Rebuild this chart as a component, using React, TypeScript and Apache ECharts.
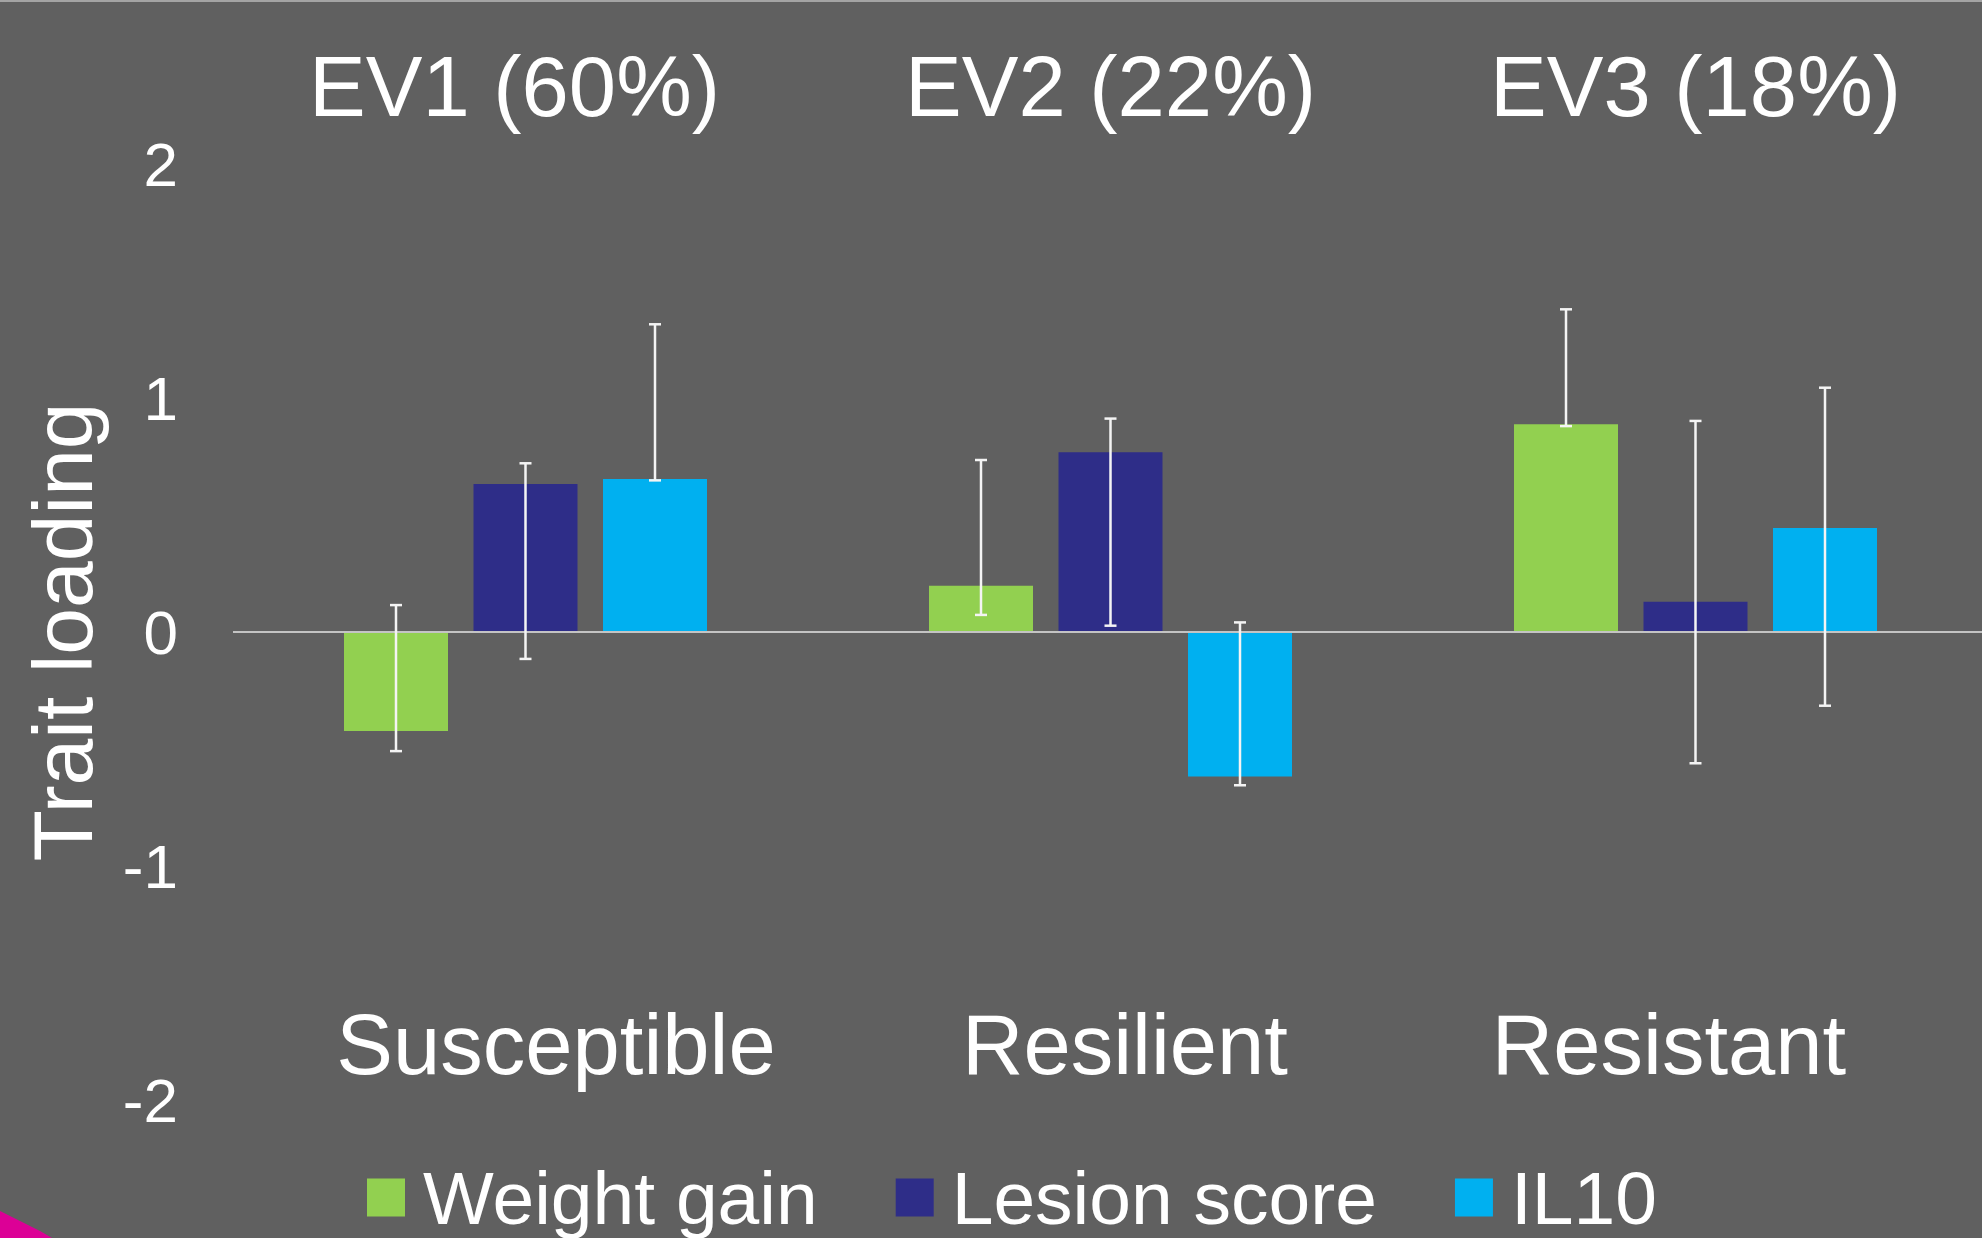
import React, { useEffect, useRef } from "react";
import * as echarts from "echarts";

const topLabels = ["EV1 (60%)", "EV2 (22%)", "EV3 (18%)"];
const groupLabels = ["Susceptible", "Resilient", "Resistant"];
const seriesNames = ["Weight gain", "Lesion score", "IL10"];
const seriesColors = ["#92D050", "#2E2D88", "#00B0F0"];

const weightGain = [-0.423, 0.198, 0.888];
const lesionScore = [0.632, 0.768, 0.129];
const il10 = [0.654, -0.618, 0.444];

const weightGainLow = [-0.509, 0.073, 0.88];
const weightGainHigh = [0.115, 0.735, 1.379];
const lesionScoreLow = [-0.115, 0.027, -0.561];
const lesionScoreHigh = [0.721, 0.912, 0.902];
const il10Low = [0.648, -0.655, -0.315];
const il10High = [1.315, 0.041, 1.044];

const yTicks = [-2, -1, 0, 1, 2];

const FONT = "'Liberation Sans', Arial, Helvetica, sans-serif";
const BAR_WIDTH = 104;
const BAR_GAP_PX = 25.5;

export default function App() {
  const ref = useRef<HTMLDivElement>(null);

  useEffect(() => {
    if (!ref.current) return;
    const chart = echarts.init(ref.current, undefined, { renderer: "svg" });

    const values = [weightGain, lesionScore, il10];
    const lows = [weightGainLow, lesionScoreLow, il10Low];
    const highs = [weightGainHigh, lesionScoreHigh, il10High];

    const barSeries = seriesNames.map((name, i) => ({
      name,
      type: "bar",
      xAxisIndex: 0,
      yAxisIndex: 0,
      barWidth: BAR_WIDTH,
      barGap: `${(BAR_GAP_PX / BAR_WIDTH) * 100}%`,
      itemStyle: { color: seriesColors[i] },
      data: values[i],
      z: 2,
      ...(i === 0
        ? {
            markLine: {
              silent: true,
              symbol: "none",
              label: { show: false },
              lineStyle: { color: "#c4c4c4", width: 2, type: "solid" },
              data: [{ yAxis: 0 }],
              z: 3,
            },
          }
        : {}),
    }));

    const errSeries = seriesNames.map((name, i) => ({
      name: name + " error",
      type: "custom",
      xAxisIndex: 0,
      yAxisIndex: 0,
      z: 5,
      silent: true,
      data: lows[i].map((lo, k) => [k, lo, highs[i][k]]),
      encode: { x: 0, y: [1, 2] },
      renderItem: (params: any, api: any) => {
        const k = api.value(0);
        const lo = api.coord([k, api.value(1)]);
        const hi = api.coord([k, api.value(2)]);
        const off = (i - 1) * (BAR_WIDTH + BAR_GAP_PX);
        const x = lo[0] + off;
        const hw = 6;
        const style = { stroke: "#f4f4f4", lineWidth: 2.5 };
        return {
          type: "group",
          children: [
            { type: "line", shape: { x1: x, y1: lo[1], x2: x, y2: hi[1] }, style },
            { type: "line", shape: { x1: x - hw, y1: lo[1], x2: x + hw, y2: lo[1] }, style },
            { type: "line", shape: { x1: x - hw, y1: hi[1], x2: x + hw, y2: hi[1] }, style },
          ],
        };
      },
    }));

    const option: any = {
      animation: false,
      backgroundColor: "#606060",
      textStyle: { fontFamily: FONT },
      grid: {
        left: 233,
        top: 164,
        width: 1755,
        height: 936,
        containLabel: false,
        outerBoundsMode: "none",
      },
      legend: {
        data: seriesNames,
        left: 367,
        top: 1160,
        padding: 0,
        icon: "rect",
        itemWidth: 38,
        itemHeight: 38,
        itemGap: 78,
        textStyle: {
          color: "#ffffff",
          fontSize: 75,
          fontFamily: FONT,
          padding: [0, 0, 0, 13],
        },
      },
      xAxis: {
        type: "category",
        position: "top",
        data: topLabels,
        axisLine: { show: false },
        axisTick: { show: false },
        splitLine: { show: false },
        axisLabel: {
          interval: 0,
          hideOverlap: false,
          color: "#ffffff",
          fontSize: 85,
          fontFamily: FONT,
          margin: 78,
          verticalAlign: "middle",
          formatter: (v: string, idx: number) => (idx === 0 ? `{a|${v}}` : `{b|${v}}`),
          rich: {
            a: { color: "#ffffff", fontSize: 85, fontFamily: FONT, padding: [0, 22, 0, 0] },
            b: { color: "#ffffff", fontSize: 85, fontFamily: FONT },
          },
        },
      },
      yAxis: {
        type: "value",
        min: yTicks[0],
        max: yTicks[yTicks.length - 1],
        interval: 1,
        name: "Trait loading",
        nameLocation: "middle",
        nameRotate: 90,
        nameGap: 128,
        nameTextStyle: { color: "#ffffff", fontSize: 84, fontFamily: FONT },
        axisLine: { show: false },
        axisTick: { show: false },
        splitLine: { show: false },
        axisLabel: { color: "#ffffff", fontSize: 62, fontFamily: FONT, margin: 55 },
      },
      graphic: [
        { type: "rect", left: 0, top: 0, shape: { width: 1982, height: 2 }, style: { fill: "#a4a4a4" }, silent: true },
        {
          type: "polygon",
          shape: { points: [[0, 1211], [14, 1218], [28, 1225], [40, 1231], [52, 1238], [0, 1238]] },
          style: { fill: "#DC0096" },
          silent: true,
        },
        ...groupLabels.map((t, i) => ({
          type: "text",
          x: [556, 1125, 1669][i],
          y: 1044,
          style: {
            text: t,
            fill: "#ffffff",
            fontSize: 85,
            fontFamily: FONT,
            textAlign: "center",
            textVerticalAlign: "middle",
          },
        })),
      ],
      series: [...barSeries, ...errSeries],
    };

    chart.setOption(option);
    return () => chart.dispose();
  }, []);

  return (
    <div
      ref={ref}
      style={{ position: "fixed", left: 0, top: 0, width: 1982, height: 1238 }}
    />
  );
}
